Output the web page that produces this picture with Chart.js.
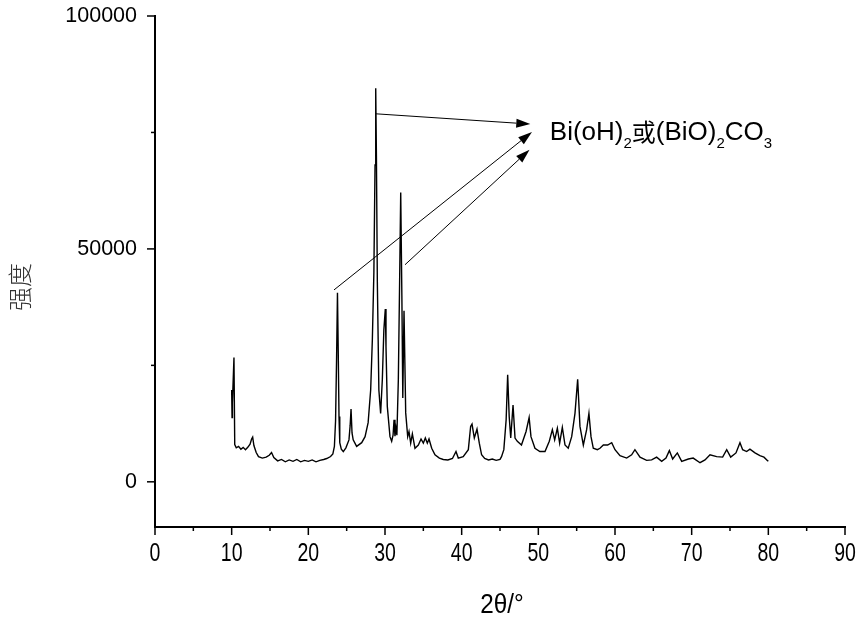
<!DOCTYPE html>
<html><head><meta charset="utf-8">
<script src="https://cdn.jsdelivr.net/npm/chart.js@4.4.1/dist/chart.umd.min.js"></script>
<style>html,body{margin:0;padding:0;background:#fff}#wrap{width:859px;height:619px;position:relative}</style>
</head><body><div id="wrap"><canvas id="c"></canvas></div>
<script>
// 2θ (degrees)
const twoTheta = [10.0,10.05,10.1,10.3,10.4,10.6,10.9,11.2,11.5,11.8,12.1,12.4,12.6,12.74,12.9,13.2,13.5,14.0,14.5,14.9,15.2,15.5,16.0,16.5,17.0,17.5,18.0,18.5,19.0,19.5,20.0,20.5,21.0,21.5,22.0,22.4,22.9,23.2,23.4,23.55,23.68,23.8,23.9,24.0,24.1,24.3,24.56,24.9,25.3,25.45,25.57,25.7,25.85,26.3,26.96,27.4,27.8,28.13,28.35,28.55,28.7,28.79,28.88,29.0,29.2,29.43,29.65,29.85,30.04,30.13,30.3,30.65,30.87,31.05,31.18,31.3,31.43,31.55,31.74,31.91,32.05,32.2,32.32,32.48,32.7,32.96,33.13,33.35,33.57,33.91,34.35,34.7,35.0,35.26,35.52,35.74,36.09,36.52,37.09,37.6,38.2,38.8,39.26,39.56,40.2,40.87,41.17,41.35,41.65,42.0,42.3,42.6,43.0,43.5,44.0,44.5,45.0,45.2,45.5,45.8,46.0,46.2,46.4,46.7,46.96,47.26,47.8,48.4,48.8,49.04,49.56,50.2,50.87,51.43,51.83,52.13,52.48,52.78,53.13,53.48,53.9,54.35,54.78,55.13,55.43,55.87,56.3,56.6,56.87,57.17,57.7,58.04,58.48,59.04,59.57,60.0,60.65,61.52,62.17,62.6,63.26,64.13,64.78,65.43,66.09,66.65,67.09,67.52,68.13,68.7,69.57,70.2,71.09,71.74,72.39,73.26,74.04,74.57,75.09,75.78,76.3,76.65,77.17,77.6,78.26,78.9,79.43,79.87,80.0];
// intensity (counts)
const intensity = [19700,13800,17000,26700,8000,7300,7600,7000,7400,6900,7400,8100,9200,9600,7800,6300,5400,5100,5300,5700,6300,5200,4500,4800,4300,4700,4400,4800,4300,4600,4400,4700,4300,4600,4800,5000,5430,6000,7600,13000,26000,40600,28000,14000,8400,7000,6500,7300,9000,12000,15600,10500,9000,7600,8400,9700,12700,19700,30500,45000,68000,84500,70000,43000,19700,14700,21900,32600,37100,29000,16200,9700,8700,10000,13300,9800,11500,10000,21900,43400,62100,40000,18000,36700,14800,9700,10800,8300,10300,7200,7900,9200,8300,9400,8300,9200,7200,5800,5100,4800,4700,5000,6500,5100,5400,6900,11900,12400,9400,11300,8300,5800,5000,4700,4900,4600,4800,5400,6900,13300,23000,14000,9400,16500,9400,8700,7900,10800,13800,9700,7200,6500,6500,8700,11200,9000,11500,8300,11700,7900,7200,9700,14700,22000,11900,7900,11200,14700,9700,7200,6900,7200,7900,7900,8400,6900,5600,5100,5800,6900,5300,4600,4700,5300,4400,5100,6700,4900,6200,4400,4900,5100,4100,4700,5800,5400,5300,6900,5300,6200,8400,6900,6500,7000,6200,5600,5300,4600,4400];

const xTicks = [0,10,20,30,40,50,60,70,80,90];
const xMinorTicks = [5,15,25,35,45,55,65,75,85];
const yTicks = [0,50000,100000];
const yMinorTicks = [25000,75000];
const xRange = [0,90];
const yRange = [-9700,100000];

// annotation arrows (data coordinates)
const arrowFromX = [28.83,23.35,32.61];
const arrowFromY = [79000,41200,46600];
const arrowToX = [48.95,49.17,48.85];
const arrowToY = [76800,75100,71300];
const labelX = 51.5;
const labelY = 73400;
const labelParts = [["Bi(oH)",0],["2",1],["或",2],["(BiO)",0],["2",1],["CO",0],["3",1]];
const xTitle = "2θ/°";
const yTitle = "强度";

const points = twoTheta.map((t,i)=>({x:t,y:intensity[i]}));
const NARROW = "25px 'Liberation Sans', Arial, sans-serif";

function narrowText(ctx, txt, x, y, sx){
  ctx.save(); ctx.translate(x,y); ctx.scale(sx,1); ctx.fillText(txt,0,0); ctx.restore();
}

const decor = {
  id:'decor',
  afterDraw(chart){
    const ctx = chart.ctx, xs = chart.scales.x, ys = chart.scales.y, a = chart.chartArea;
    ctx.save();
    ctx.strokeStyle = '#000'; ctx.lineWidth = 1.5;
    // tick marks
    xTicks.forEach(v=>{const p=xs.getPixelForValue(v);ctx.beginPath();ctx.moveTo(p,a.bottom);ctx.lineTo(p,a.bottom+8);ctx.stroke();});
    xMinorTicks.forEach(v=>{const p=xs.getPixelForValue(v);ctx.beginPath();ctx.moveTo(p,a.bottom);ctx.lineTo(p,a.bottom+4);ctx.stroke();});
    yTicks.forEach(v=>{const p=ys.getPixelForValue(v);ctx.beginPath();ctx.moveTo(a.left,p);ctx.lineTo(a.left-8,p);ctx.stroke();});
    yMinorTicks.forEach(v=>{const p=ys.getPixelForValue(v);ctx.beginPath();ctx.moveTo(a.left,p);ctx.lineTo(a.left-4,p);ctx.stroke();});
    // x tick labels (condensed)
    ctx.fillStyle='#000'; ctx.font=NARROW; ctx.textAlign='center'; ctx.textBaseline='alphabetic';
    xTicks.forEach(v=>{narrowText(ctx,String(v),xs.getPixelForValue(v),a.bottom+34,0.78);});
    // arrows
    ctx.lineWidth = 1; ctx.fillStyle = '#000';
    for(let i=0;i<arrowFromX.length;i++){
      const x1=xs.getPixelForValue(arrowFromX[i]), y1=ys.getPixelForValue(arrowFromY[i]);
      const x2=xs.getPixelForValue(arrowToX[i]), y2=ys.getPixelForValue(arrowToY[i]);
      const ang=Math.atan2(y2-y1,x2-x1), L=14, W=4.5;
      const bx=x2-L*Math.cos(ang), by=y2-L*Math.sin(ang);
      ctx.beginPath();ctx.moveTo(x1,y1);ctx.lineTo(bx,by);ctx.stroke();
      ctx.beginPath();ctx.moveTo(x2,y2);
      ctx.lineTo(bx+W*Math.sin(ang),by-W*Math.cos(ang));
      ctx.lineTo(bx-W*Math.sin(ang),by+W*Math.cos(ang));
      ctx.closePath();ctx.fill();
    }
    // label
    let lx = xs.getPixelForValue(labelX); const ly = ys.getPixelForValue(labelY);
    ctx.textBaseline='alphabetic'; ctx.textAlign='left'; ctx.fillStyle='#000';
    labelParts.forEach(([t,k])=>{
      if(k===1){ctx.font="15px 'Liberation Sans', Arial, sans-serif";ctx.fillText(t,lx,ly+8);}
      else if(k===2){ctx.font="24px 'Noto Sans CJK SC', sans-serif";ctx.fillText(t,lx,ly+1);}
      else {ctx.font="26px 'Liberation Sans', Arial, sans-serif";ctx.fillText(t,lx,ly);}
      lx += ctx.measureText(t).width;
    });
    // axis titles
    ctx.fillStyle='#000'; ctx.font="27px 'Liberation Sans', Arial, sans-serif"; ctx.textAlign='center'; ctx.textBaseline='alphabetic';
    narrowText(ctx,xTitle,(a.left+a.right)/2+2,613,0.9);
    ctx.translate(20,287); ctx.rotate(-Math.PI/2);
    ctx.fillStyle='#333'; ctx.textBaseline='middle';
    ctx.font="300 24px 'Noto Sans CJK SC', sans-serif";
    ctx.fillText(yTitle,0,0);
    ctx.restore();
  }
};

new Chart(document.getElementById('c'),{
  type:'line',
  data:{datasets:[{data:points,borderColor:'#000',borderWidth:1.4,pointRadius:0,tension:0,fill:false}]},
  options:{
    responsive:true,maintainAspectRatio:false,animation:false,
    layout:{padding:{top:16,right:14,left:0,bottom:0}},
    plugins:{legend:{display:false},tooltip:{enabled:false}},
    scales:{
      x:{type:'linear',min:xRange[0],max:xRange[1],
        afterBuildTicks:s=>{s.ticks=xTicks.map(v=>({value:v}));},
        afterFit:s=>{s.height=92;s.paddingLeft=0;s.paddingRight=0;},
        grid:{display:false,drawTicks:false,tickLength:0},
        border:{display:true,color:'#000',width:2},
        ticks:{display:false}},
      y:{type:'linear',min:yRange[0],max:yRange[1],
        afterBuildTicks:s=>{s.ticks=yTicks.map(v=>({value:v}));},
        afterFit:s=>{s.width=155;s.paddingTop=0;s.paddingBottom=0;},
        grid:{display:false,drawTicks:false,tickLength:0},
        border:{display:true,color:'#000',width:2},
        ticks:{padding:18,color:'#000',autoSkip:false,callback:v=>String(v),
          font:{family:"'Liberation Sans',Arial,sans-serif",size:21.5}}}
    }
  },
  plugins:[decor]
});
</script></body></html>
